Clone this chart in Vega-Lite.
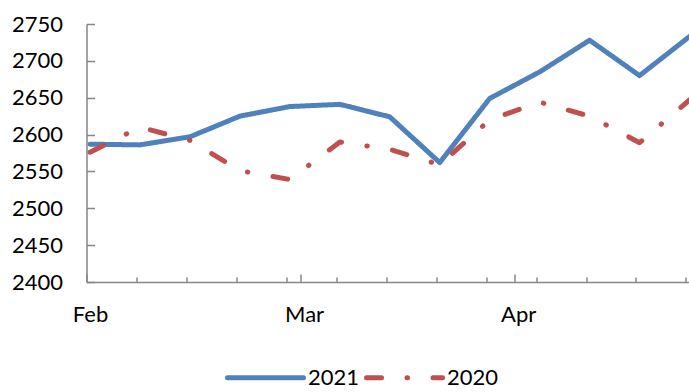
{
  "$schema": "https://vega.github.io/schema/vega-lite/v6.json",
  "width": 603,
  "height": 258,
  "autosize": "none",
  "padding": {"left": 86.5, "top": 24, "right": 0, "bottom": 110},
  "background": "white",
  "config": {
    "view": {"stroke": null},
    "font": "Lato",
    "axis": {
      "labelFont": "Lato",
      "labelFontSize": 22,
      "labelColor": "#000000",
      "domainColor": "#868686",
      "domainWidth": 1.5,
      "tickColor": "#868686",
      "tickWidth": 1.5,
      "grid": false,
      "title": null
    },
    "legend": {
      "labelFont": "Lato",
      "labelFontSize": 22,
      "labelColor": "#000000"
    }
  },
  "data": {
    "values": [
      {"date": "2021-02-01", "series": "2021", "value": 2587},
      {"date": "2021-02-08", "series": "2021", "value": 2586},
      {"date": "2021-02-15", "series": "2021", "value": 2597},
      {"date": "2021-02-22", "series": "2021", "value": 2625},
      {"date": "2021-03-01", "series": "2021", "value": 2638},
      {"date": "2021-03-08", "series": "2021", "value": 2641},
      {"date": "2021-03-15", "series": "2021", "value": 2624},
      {"date": "2021-03-22", "series": "2021", "value": 2562},
      {"date": "2021-03-29", "series": "2021", "value": 2649},
      {"date": "2021-04-05", "series": "2021", "value": 2685},
      {"date": "2021-04-12", "series": "2021", "value": 2728},
      {"date": "2021-04-19", "series": "2021", "value": 2680},
      {"date": "2021-04-26", "series": "2021", "value": 2733},
      {"date": "2021-02-01", "series": "2020", "value": 2576},
      {"date": "2021-02-08", "series": "2020", "value": 2610},
      {"date": "2021-02-15", "series": "2020", "value": 2592},
      {"date": "2021-02-22", "series": "2020", "value": 2551},
      {"date": "2021-03-01", "series": "2020", "value": 2539},
      {"date": "2021-03-08", "series": "2020", "value": 2590},
      {"date": "2021-03-15", "series": "2020", "value": 2580},
      {"date": "2021-03-22", "series": "2020", "value": 2559},
      {"date": "2021-03-29", "series": "2020", "value": 2620},
      {"date": "2021-04-05", "series": "2020", "value": 2644},
      {"date": "2021-04-12", "series": "2020", "value": 2625},
      {"date": "2021-04-19", "series": "2020", "value": 2589},
      {"date": "2021-04-26", "series": "2020", "value": 2647}
    ]
  },
  "mark": {
    "type": "line",
    "strokeWidth": 5,
    "strokeCap": "round",
    "strokeJoin": "round",
    "clip": false
  },
  "encoding": {
    "x": {
      "field": "date",
      "type": "temporal",
      "scale": {
        "type": "utc",
        "domain": [
          {"year": 2021, "month": 1, "date": 31, "hours": 12, "utc": true},
          {"year": 2021, "month": 4, "date": 26, "utc": true}
        ]
      },
      "axis": {
        "values": [
          {"year": 2021, "month": 1, "date": 31, "hours": 12, "utc": true},
          {"year": 2021, "month": 2, "date": 7, "hours": 12, "utc": true},
          {"year": 2021, "month": 2, "date": 14, "hours": 12, "utc": true},
          {"year": 2021, "month": 2, "date": 21, "hours": 12, "utc": true},
          {"year": 2021, "month": 2, "date": 28, "hours": 12, "utc": true},
          {"year": 2021, "month": 3, "date": 2, "hours": 12, "utc": true},
          {"year": 2021, "month": 3, "date": 7, "hours": 12, "utc": true},
          {"year": 2021, "month": 3, "date": 14, "hours": 12, "utc": true},
          {"year": 2021, "month": 3, "date": 21, "hours": 12, "utc": true},
          {"year": 2021, "month": 3, "date": 28, "hours": 12, "utc": true},
          {"year": 2021, "month": 4, "date": 1, "hours": 12, "utc": true},
          {"year": 2021, "month": 4, "date": 4, "hours": 12, "utc": true},
          {"year": 2021, "month": 4, "date": 11, "hours": 12, "utc": true},
          {"year": 2021, "month": 4, "date": 18, "hours": 12, "utc": true},
          {"year": 2021, "month": 4, "date": 25, "hours": 12, "utc": true}
        ],
        "tickSize": {
          "condition": {"test": "(datum.value - utc(2021, 0, 31, 12)) % 2592000000 == 0", "value": -8},
          "value": -5
        },
        "labelExpr": "(datum.value - utc(2021, 0, 31, 12)) % 2592000000 == 0 ? utcFormat(datum.value + 43200000, '%b') : ''",
        "labelFlush": false,
        "labelOverlap": false,
        "labelBound": false,
        "labelPadding": 30,
        "labelOffset": 3.5
      }
    },
    "y": {
      "field": "value",
      "type": "quantitative",
      "scale": {"domain": [2400, 2750], "nice": false, "zero": false},
      "axis": {
        "values": [2400, 2450, 2500, 2550, 2600, 2650, 2700, 2750],
        "format": "d",
        "tickSize": -8,
        "labelPadding": 32
      }
    },
    "color": {
      "field": "series",
      "type": "nominal",
      "scale": {"domain": ["2021", "2020"], "range": ["#4F81BD", "#C0504D"]},
      "legend": {
        "title": null,
        "orient": "none",
        "direction": "horizontal",
        "legendX": 138.5,
        "legendY": 313,
        "padding": 0,
        "symbolType": "stroke",
        "symbolSize": 5776,
        "symbolStrokeWidth": 5,
        "labelOffset": 2,
        "columnPadding": -4,
        "encode": {"symbols": {"update": {"strokeCap": {"value": "round"}}}}
      }
    },
    "strokeDash": {
      "field": "series",
      "type": "nominal",
      "scale": {"domain": ["2021", "2020"], "range": [[1, 0], [15, 25.5, 0.5, 25.5]]}
    }
  }
}
